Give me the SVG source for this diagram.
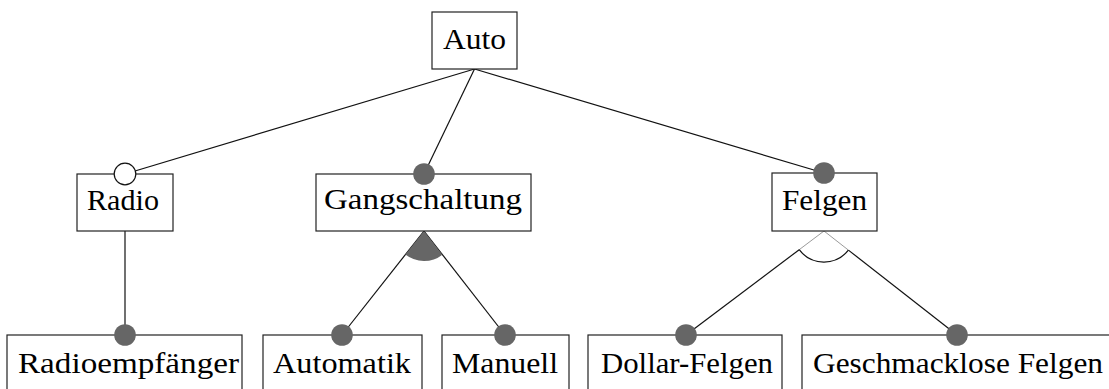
<svg xmlns="http://www.w3.org/2000/svg" width="1109" height="389" viewBox="0 0 1109 389">
<style>
.box{fill:#fff;stroke:#222;stroke-width:1.2}
.lbl{font-family:"Liberation Serif","DejaVu Serif",serif;font-size:29px;fill:#000;text-anchor:middle}
.ln{stroke:#111;stroke-width:1.2;fill:none}
.thin{stroke:#555;stroke-width:0.6;fill:none}
.man{fill:#666;stroke:none}
.opt{fill:#fff;stroke:#111;stroke-width:1.2}
</style>
<rect width="1109" height="389" fill="#fff"/>
<g id="connectors">
<line class="ln" x1="474.5" y1="69" x2="125" y2="174"/>
<line class="ln" x1="474.5" y1="69" x2="424" y2="174"/>
<line class="ln" x1="474.5" y1="69" x2="824" y2="173"/>
<line class="ln" x1="125" y1="231" x2="125" y2="335"/>
<line class="ln" x1="424" y1="231" x2="342" y2="335"/>
<line class="ln" x1="424" y1="231" x2="505" y2="335"/>
<path class="man" d="M424,231 L405.4,254.6 A30,30 0 0,0 442.4,254.7 Z"/>
<line class="thin" x1="824" y1="231" x2="799.2" y2="249.7"/>
<line class="thin" x1="824" y1="231" x2="848.4" y2="250.1"/>
<line class="ln" x1="799.2" y1="249.7" x2="686" y2="335"/>
<line class="ln" x1="848.4" y1="250.1" x2="957" y2="335"/>
<path class="ln" d="M799.2,249.7 A31,31 0 0,0 848.4,250.1"/>
</g>
<g id="auto">
<rect class="box" x="432" y="12" width="85" height="57"/>
<text class="lbl" x="474.5" y="49" textLength="63" lengthAdjust="spacingAndGlyphs">Auto</text>
</g>
<g id="radio">
<rect class="box" x="77" y="174" width="96" height="57"/>
<text class="lbl" x="123" y="210" textLength="72" lengthAdjust="spacingAndGlyphs">Radio</text>
<circle class="opt" cx="125" cy="174" r="10.8"/>
</g>
<g id="gangschaltung">
<rect class="box" x="316" y="174" width="215" height="57"/>
<text class="lbl" x="423" y="209" textLength="198" lengthAdjust="spacingAndGlyphs">Gangschaltung</text>
<circle class="man" cx="424" cy="174" r="10.8"/>
</g>
<g id="felgen">
<rect class="box" x="772" y="173" width="105" height="58"/>
<text class="lbl" x="824.5" y="210" textLength="85" lengthAdjust="spacingAndGlyphs">Felgen</text>
<circle class="man" cx="824" cy="173" r="10.8"/>
</g>
<g id="radioempfaenger">
<rect class="box" x="7" y="335" width="235" height="70"/>
<text class="lbl" x="128.5" y="373" textLength="221" lengthAdjust="spacingAndGlyphs">Radioempfänger</text>
<circle class="man" cx="125" cy="335" r="10.8"/>
</g>
<g id="automatik">
<rect class="box" x="263" y="335" width="159" height="70"/>
<text class="lbl" x="342" y="373" textLength="138" lengthAdjust="spacingAndGlyphs">Automatik</text>
<circle class="man" cx="342" cy="335" r="10.8"/>
</g>
<g id="manuell">
<rect class="box" x="442" y="335" width="127" height="70"/>
<text class="lbl" x="505" y="373" textLength="106" lengthAdjust="spacingAndGlyphs">Manuell</text>
<circle class="man" cx="505" cy="335" r="10.8"/>
</g>
<g id="dollar-felgen">
<rect class="box" x="588" y="335" width="194" height="70"/>
<text class="lbl" x="687" y="373" textLength="172" lengthAdjust="spacingAndGlyphs">Dollar-Felgen</text>
<circle class="man" cx="686" cy="335" r="10.8"/>
</g>
<g id="geschmacklose-felgen">
<rect class="box" x="802" y="335" width="310" height="70"/>
<text class="lbl" x="958" y="373" textLength="290" lengthAdjust="spacingAndGlyphs">Geschmacklose Felgen</text>
<circle class="man" cx="957" cy="335" r="10.8"/>
</g>
</svg>
